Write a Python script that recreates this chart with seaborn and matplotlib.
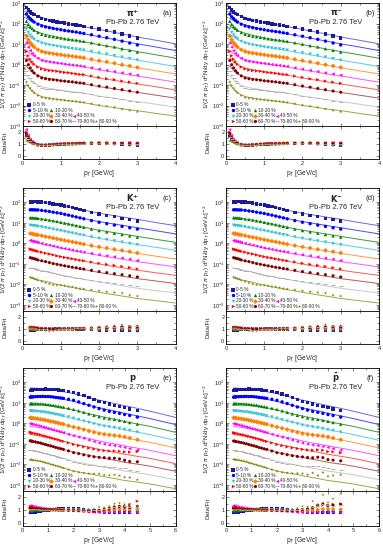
"""
Identified hadron spectra in Pb-Pb at 2.76 TeV with fits and Data/Fit ratios.
Six panels: pi+, pi-, K+, K-, p, pbar; ten centrality classes each.
"""
import numpy as np
import matplotlib
matplotlib.use("Agg")
import matplotlib.pyplot as plt
import seaborn as sns

# --- centrality classes / styles -------------------------------------------
CENTRALITIES = ["0-5 %", "5-10 %", "10-20 %", "20-30 %", "30-40 %",
                "40-50 %", "50-60 %", "60-70 %", "70-80 %", "80-90 %"]
MARKERS = ["s", "o", "^", "v", "D", "<", ">", "h", "_", "*"]
COLORS = ["#1a1a9a", "#0000ff", "#008000", "#33c4d4", "#ff8000",
          "#ff00ff", "#ff0000", "#800000", "#b0b0b0", "#808000"]
LINE_COLORS = ["#6a6ae0", "#4848ff", "#3a9a3a", "#55d0dc", "#ff9a40",
               "#ff55ff", "#ff5a5a", "#b55a5a", "#c8c8c8", "#a5a545"]

# --- pions: data bins, log10 of fit at bins + tail, Data/Fit --------------
PT_PION = [0.1, 0.15, 0.2, 0.25, 0.3, 0.4, 0.5, 0.6, 0.7, 0.8, 0.9, 1.0, 1.1,
           1.2, 1.3, 1.4, 1.5, 1.6, 1.8, 2.0, 2.2, 2.4, 2.6, 2.8, 3.0]
PT_PION_TAIL = [3.5, 4.0]
LOGFIT_PION = [
    [2.58, 2.53, 2.49, 2.45, 2.42, 2.36, 2.30, 2.24, 2.19, 2.14, 2.09, 2.05, 2.02, 1.98, 1.95, 1.92, 1.88, 1.85, 1.78, 1.71, 1.64, 1.57, 1.49, 1.42, 1.34, 1.18, 1.01],
    [2.25, 2.19, 2.15, 2.10, 2.06, 2.00, 1.93, 1.88, 1.83, 1.78, 1.74, 1.70, 1.66, 1.63, 1.60, 1.57, 1.53, 1.50, 1.43, 1.36, 1.29, 1.22, 1.15, 1.08, 1.01, 0.85, 0.68],
    [1.88, 1.81, 1.76, 1.71, 1.66, 1.59, 1.52, 1.47, 1.42, 1.38, 1.34, 1.30, 1.26, 1.23, 1.20, 1.18, 1.14, 1.11, 1.04, 0.97, 0.90, 0.84, 0.76, 0.70, 0.63, 0.47, 0.31],
    [1.47, 1.39, 1.33, 1.27, 1.22, 1.15, 1.08, 1.03, 0.98, 0.94, 0.90, 0.86, 0.83, 0.80, 0.77, 0.74, 0.71, 0.68, 0.61, 0.54, 0.48, 0.41, 0.34, 0.28, 0.21, 0.06, -0.10],
    [1.11, 1.02, 0.95, 0.89, 0.83, 0.75, 0.68, 0.63, 0.59, 0.55, 0.51, 0.48, 0.44, 0.42, 0.39, 0.36, 0.33, 0.30, 0.23, 0.16, 0.10, 0.04, -0.03, -0.09, -0.16, -0.31, -0.46],
    [0.71, 0.61, 0.53, 0.46, 0.40, 0.32, 0.24, 0.20, 0.16, 0.12, 0.08, 0.05, 0.02, -0.01, -0.04, -0.06, -0.09, -0.12, -0.19, -0.26, -0.32, -0.38, -0.45, -0.51, -0.56, -0.71, -0.86],
    [0.33, 0.22, 0.13, 0.06, -0.01, -0.10, -0.17, -0.22, -0.26, -0.29, -0.32, -0.36, -0.39, -0.41, -0.44, -0.47, -0.50, -0.52, -0.59, -0.66, -0.72, -0.77, -0.84, -0.90, -0.95, -1.09, -1.24],
    [-0.07, -0.19, -0.28, -0.37, -0.44, -0.53, -0.61, -0.65, -0.69, -0.72, -0.75, -0.79, -0.81, -0.84, -0.86, -0.89, -0.92, -0.94, -1.01, -1.08, -1.13, -1.19, -1.25, -1.31, -1.36, -1.50, -1.64],
    [-0.51, -0.64, -0.74, -0.83, -0.91, -1.01, -1.09, -1.13, -1.16, -1.19, -1.22, -1.25, -1.28, -1.30, -1.33, -1.35, -1.38, -1.40, -1.47, -1.54, -1.59, -1.64, -1.71, -1.76, -1.81, -1.94, -2.08],
    [-0.95, -1.09, -1.20, -1.30, -1.37, -1.48, -1.56, -1.60, -1.63, -1.67, -1.69, -1.72, -1.74, -1.77, -1.79, -1.81, -1.84, -1.86, -1.93, -2.00, -2.05, -2.10, -2.16, -2.21, -2.25, -2.39, -2.52],
]
RATIO_PION = [
    [1.60, 1.36, 1.20, 1.10, 1.02, 0.93, 0.90, 0.90, 0.92, 0.95, 0.97, 0.99, 1.00, 1.01, 1.02, 1.03, 1.03, 1.04, 1.04, 1.05, 1.04, 1.03, 1.00, 0.95, 0.90],
    [1.62, 1.38, 1.22, 1.11, 1.03, 0.93, 0.90, 0.90, 0.92, 0.95, 0.97, 0.99, 1.00, 1.01, 1.02, 1.03, 1.04, 1.04, 1.05, 1.05, 1.04, 1.02, 0.98, 0.93, 0.88],
    [1.70, 1.42, 1.24, 1.12, 1.04, 0.94, 0.90, 0.90, 0.92, 0.95, 0.97, 0.99, 1.00, 1.01, 1.02, 1.03, 1.04, 1.05, 1.05, 1.06, 1.05, 1.04, 1.02, 0.98, 0.95],
    [1.80, 1.48, 1.27, 1.14, 1.05, 0.94, 0.90, 0.90, 0.92, 0.95, 0.97, 0.99, 1.00, 1.01, 1.02, 1.04, 1.05, 1.05, 1.06, 1.06, 1.06, 1.05, 1.04, 1.02, 1.00],
    [1.90, 1.54, 1.30, 1.15, 1.06, 0.94, 0.90, 0.90, 0.92, 0.95, 0.97, 0.99, 1.00, 1.02, 1.03, 1.04, 1.05, 1.06, 1.06, 1.07, 1.07, 1.06, 1.05, 1.05, 1.04],
    [2.20, 1.72, 1.40, 1.20, 1.08, 0.95, 0.90, 0.90, 0.92, 0.95, 0.98, 1.00, 1.01, 1.02, 1.03, 1.04, 1.05, 1.06, 1.07, 1.08, 1.08, 1.08, 1.10, 1.12, 1.10],
    [2.00, 1.60, 1.35, 1.18, 1.07, 0.95, 0.90, 0.90, 0.92, 0.95, 0.98, 1.00, 1.01, 1.02, 1.03, 1.04, 1.05, 1.06, 1.07, 1.08, 1.07, 1.07, 1.08, 1.10, 1.08],
    [1.85, 1.52, 1.30, 1.16, 1.06, 0.94, 0.90, 0.90, 0.92, 0.95, 0.97, 0.99, 1.00, 1.02, 1.03, 1.04, 1.05, 1.06, 1.06, 1.07, 1.06, 1.05, 1.05, 1.04, 1.02],
    [1.60, 1.38, 1.22, 1.12, 1.04, 0.94, 0.90, 0.90, 0.92, 0.95, 0.97, 0.99, 1.00, 1.01, 1.02, 1.03, 1.04, 1.04, 1.05, 1.05, 1.04, 1.03, 1.02, 1.00, 0.97],
    [1.25, 1.17, 1.10, 1.04, 0.99, 0.93, 0.90, 0.90, 0.91, 0.94, 0.96, 0.98, 0.99, 1.00, 1.01, 1.02, 1.03, 1.03, 1.04, 1.04, 1.03, 1.02, 0.98, 0.94, 0.88],
]

# --- kaons -----------------------------------------------------------------
PT_KAON = [0.2, 0.25, 0.3, 0.35, 0.4, 0.5, 0.6, 0.7, 0.8, 0.9, 1.0, 1.1,
           1.2, 1.3, 1.4, 1.5, 1.6, 1.8, 2.0, 2.2, 2.4, 2.6, 2.8, 3.0]
PT_KAON_TAIL = [3.5, 4.0]
LOGFIT_KAON = [
    [2.08, 2.07, 2.07, 2.06, 2.04, 2.02, 1.99, 1.96, 1.92, 1.89, 1.86, 1.82, 1.79, 1.74, 1.70, 1.67, 1.62, 1.54, 1.47, 1.41, 1.35, 1.29, 1.23, 1.17, 1.01, 0.86],
    [1.68, 1.67, 1.66, 1.65, 1.64, 1.61, 1.58, 1.55, 1.51, 1.48, 1.45, 1.41, 1.37, 1.33, 1.29, 1.25, 1.21, 1.13, 1.06, 1.00, 0.94, 0.88, 0.82, 0.76, 0.61, 0.46],
    [1.27, 1.26, 1.25, 1.24, 1.22, 1.19, 1.16, 1.13, 1.09, 1.06, 1.02, 0.98, 0.95, 0.91, 0.87, 0.83, 0.79, 0.71, 0.64, 0.58, 0.52, 0.46, 0.40, 0.34, 0.19, 0.05],
    [0.88, 0.87, 0.86, 0.84, 0.82, 0.80, 0.76, 0.73, 0.69, 0.65, 0.62, 0.58, 0.54, 0.50, 0.46, 0.42, 0.39, 0.31, 0.24, 0.18, 0.12, 0.06, 0.00, -0.06, -0.20, -0.34],
    [0.46, 0.45, 0.43, 0.41, 0.40, 0.37, 0.33, 0.30, 0.26, 0.22, 0.18, 0.14, 0.11, 0.07, 0.03, -0.01, -0.05, -0.12, -0.19, -0.25, -0.31, -0.37, -0.43, -0.49, -0.63, -0.76],
    [0.07, 0.05, 0.04, 0.02, 0.00, -0.03, -0.07, -0.10, -0.14, -0.18, -0.23, -0.26, -0.30, -0.34, -0.38, -0.41, -0.45, -0.52, -0.59, -0.65, -0.71, -0.77, -0.83, -0.89, -1.02, -1.15],
    [-0.34, -0.36, -0.38, -0.40, -0.42, -0.45, -0.49, -0.52, -0.56, -0.61, -0.65, -0.69, -0.72, -0.76, -0.80, -0.84, -0.87, -0.94, -1.01, -1.07, -1.13, -1.19, -1.25, -1.31, -1.44, -1.56],
    [-0.74, -0.76, -0.78, -0.80, -0.83, -0.86, -0.89, -0.93, -0.98, -1.02, -1.06, -1.10, -1.14, -1.18, -1.21, -1.25, -1.28, -1.35, -1.42, -1.48, -1.54, -1.60, -1.66, -1.72, -1.84, -1.96],
    [-1.20, -1.22, -1.24, -1.27, -1.29, -1.33, -1.36, -1.40, -1.45, -1.49, -1.54, -1.58, -1.61, -1.65, -1.69, -1.72, -1.76, -1.82, -1.89, -1.95, -2.01, -2.07, -2.13, -2.19, -2.31, -2.42],
    [-1.69, -1.71, -1.74, -1.76, -1.79, -1.82, -1.86, -1.90, -1.95, -2.00, -2.04, -2.08, -2.12, -2.15, -2.19, -2.23, -2.26, -2.32, -2.39, -2.45, -2.51, -2.57, -2.63, -2.69, -2.80, -2.91],
]
RATIO_KAON = [
    [0.88, 0.90, 0.92, 0.94, 0.96, 0.98, 1.00, 1.01, 1.01, 1.02, 1.02, 1.01, 1.01, 1.00, 0.99, 0.98, 0.97, 0.95, 0.92, 0.90, 0.88, 0.86, 0.85, 0.84],
    [0.90, 0.92, 0.94, 0.95, 0.97, 0.99, 1.00, 1.01, 1.02, 1.02, 1.02, 1.01, 1.01, 1.00, 0.99, 0.98, 0.97, 0.95, 0.93, 0.91, 0.89, 0.88, 0.87, 0.86],
    [0.95, 0.96, 0.97, 0.98, 0.99, 1.00, 1.01, 1.01, 1.02, 1.02, 1.01, 1.01, 1.00, 1.00, 0.99, 0.99, 0.98, 0.97, 0.96, 0.95, 0.94, 0.93, 0.92, 0.92],
    [1.00, 1.00, 1.00, 1.01, 1.01, 1.01, 1.01, 1.00, 1.00, 1.00, 1.00, 1.00, 1.00, 1.00, 1.00, 1.00, 1.00, 1.00, 1.00, 0.99, 0.99, 0.99, 0.98, 0.97],
    [1.05, 1.04, 1.03, 1.02, 1.02, 1.01, 1.00, 0.99, 0.99, 0.99, 1.00, 1.00, 1.00, 1.01, 1.01, 1.02, 1.02, 1.03, 1.04, 1.05, 1.05, 1.06, 1.06, 1.05],
    [1.18, 1.16, 1.14, 1.12, 1.10, 1.07, 1.04, 1.02, 1.01, 1.00, 1.00, 1.01, 1.01, 1.02, 1.02, 1.03, 1.04, 1.06, 1.08, 1.10, 1.12, 1.12, 1.14, 1.12],
    [1.15, 1.14, 1.12, 1.10, 1.08, 1.05, 1.02, 1.00, 0.99, 0.99, 1.00, 1.00, 1.01, 1.02, 1.03, 1.04, 1.05, 1.07, 1.09, 1.11, 1.13, 1.15, 1.16, 1.15],
    [1.10, 1.09, 1.08, 1.06, 1.04, 1.02, 1.00, 0.98, 0.98, 0.99, 1.00, 1.01, 1.02, 1.03, 1.04, 1.05, 1.06, 1.08, 1.10, 1.12, 1.15, 1.18, 1.20, 1.20],
    [1.05, 1.06, 1.05, 1.04, 1.03, 1.00, 0.97, 0.95, 0.96, 0.98, 1.00, 1.02, 1.03, 1.04, 1.05, 1.06, 1.07, 1.09, 1.12, 1.15, 1.18, 1.20, 1.22, 1.22],
    [1.10, 1.08, 1.06, 1.02, 0.98, 0.92, 0.86, 0.82, 0.84, 0.92, 1.00, 1.03, 1.04, 1.05, 1.06, 1.07, 1.08, 1.12, 1.18, 1.24, 1.30, 1.38, 1.25, 1.30],
]

# --- protons -----------------------------------------------------------------
PT_PROTON = [0.3, 0.35, 0.4, 0.5, 0.6, 0.7, 0.8, 0.9, 1.0, 1.1, 1.2, 1.3, 1.4, 1.5, 1.6,
             1.8, 2.0, 2.2, 2.4, 2.6, 2.8, 3.0, 3.2, 3.4, 3.6, 3.8, 4.0, 4.2, 4.5]
PT_PROTON_TAIL = [5.0, 6.0]
LOGFIT_PROTON = [
    [1.72, 1.72, 1.72, 1.71, 1.71, 1.70, 1.69, 1.68, 1.66, 1.65, 1.63, 1.61, 1.58, 1.56, 1.54, 1.50, 1.45, 1.38, 1.32, 1.26, 1.19, 1.13, 1.08, 1.02, 0.97, 0.92, 0.86, 0.81, 0.73, 0.59, 0.29],
    [1.37, 1.37, 1.36, 1.36, 1.35, 1.34, 1.33, 1.31, 1.30, 1.28, 1.26, 1.23, 1.21, 1.19, 1.17, 1.12, 1.07, 1.00, 0.94, 0.88, 0.82, 0.76, 0.70, 0.65, 0.60, 0.55, 0.49, 0.44, 0.36, 0.23, -0.06],
    [0.99, 0.99, 0.98, 0.97, 0.96, 0.95, 0.94, 0.92, 0.90, 0.88, 0.86, 0.83, 0.81, 0.78, 0.76, 0.71, 0.65, 0.59, 0.53, 0.47, 0.41, 0.36, 0.30, 0.25, 0.20, 0.15, 0.09, 0.04, -0.03, -0.15, -0.44],
    [0.60, 0.60, 0.59, 0.58, 0.57, 0.55, 0.54, 0.52, 0.50, 0.47, 0.45, 0.42, 0.40, 0.37, 0.34, 0.29, 0.23, 0.17, 0.11, 0.06, 0.00, -0.06, -0.11, -0.16, -0.21, -0.26, -0.32, -0.36, -0.43, -0.55, -0.83],
    [0.23, 0.22, 0.22, 0.20, 0.19, 0.17, 0.16, 0.13, 0.11, 0.08, 0.06, 0.03, 0.00, -0.03, -0.05, -0.12, -0.18, -0.23, -0.28, -0.34, -0.39, -0.45, -0.50, -0.55, -0.60, -0.65, -0.70, -0.75, -0.82, -0.93, -1.20],
    [-0.15, -0.16, -0.17, -0.18, -0.20, -0.22, -0.24, -0.26, -0.29, -0.31, -0.34, -0.37, -0.40, -0.43, -0.46, -0.53, -0.59, -0.64, -0.69, -0.75, -0.80, -0.86, -0.91, -0.96, -1.00, -1.05, -1.10, -1.15, -1.21, -1.32, -1.58],
    [-0.54, -0.55, -0.56, -0.58, -0.59, -0.61, -0.64, -0.66, -0.69, -0.72, -0.75, -0.78, -0.81, -0.85, -0.88, -0.94, -1.01, -1.06, -1.11, -1.16, -1.21, -1.27, -1.32, -1.37, -1.41, -1.46, -1.51, -1.55, -1.61, -1.71, -1.97],
    [-0.91, -0.92, -0.93, -0.95, -0.97, -0.99, -1.02, -1.05, -1.08, -1.11, -1.14, -1.18, -1.21, -1.24, -1.27, -1.34, -1.42, -1.46, -1.51, -1.56, -1.61, -1.66, -1.71, -1.76, -1.80, -1.85, -1.90, -1.94, -1.99, -2.09, -2.34],
    [-1.32, -1.33, -1.35, -1.37, -1.39, -1.41, -1.44, -1.47, -1.50, -1.54, -1.57, -1.61, -1.64, -1.67, -1.71, -1.78, -1.86, -1.90, -1.95, -2.00, -2.04, -2.10, -2.14, -2.19, -2.23, -2.28, -2.33, -2.36, -2.42, -2.51, -2.75],
    [-1.76, -1.77, -1.79, -1.81, -1.83, -1.86, -1.89, -1.93, -1.96, -2.00, -2.03, -2.07, -2.10, -2.14, -2.18, -2.25, -2.33, -2.38, -2.42, -2.46, -2.50, -2.56, -2.60, -2.65, -2.69, -2.74, -2.79, -2.82, -2.87, -2.96, -3.19],
]
RATIO_PROTON = [
    [0.78, 0.80, 0.82, 0.85, 0.88, 0.91, 0.94, 0.97, 1.00, 1.03, 1.06, 1.08, 1.10, 1.12, 1.13, 1.15, 1.16, 1.14, 1.08, 1.00, 0.93, 0.88, 0.85, 0.83, 0.82, 0.80, 0.80, 0.79, 0.78],
    [0.80, 0.82, 0.84, 0.87, 0.90, 0.93, 0.96, 0.99, 1.02, 1.04, 1.06, 1.08, 1.10, 1.11, 1.12, 1.13, 1.13, 1.11, 1.06, 1.00, 0.95, 0.91, 0.88, 0.86, 0.86, 0.86, 0.87, 0.88, 0.88],
    [0.92, 0.93, 0.94, 0.96, 0.98, 1.00, 1.01, 1.02, 1.03, 1.04, 1.05, 1.06, 1.06, 1.07, 1.07, 1.07, 1.07, 1.05, 1.02, 0.98, 0.95, 0.93, 0.92, 0.94, 0.98, 1.00, 1.02, 1.00, 0.98],
    [1.00, 1.00, 1.01, 1.01, 1.02, 1.02, 1.03, 1.03, 1.03, 1.03, 1.04, 1.04, 1.04, 1.04, 1.04, 1.04, 1.03, 1.01, 0.99, 0.96, 0.93, 0.92, 0.93, 0.96, 1.00, 1.02, 1.04, 1.02, 1.00],
    [1.10, 1.10, 1.09, 1.08, 1.07, 1.06, 1.05, 1.05, 1.04, 1.04, 1.04, 1.03, 1.03, 1.03, 1.02, 1.01, 1.00, 0.98, 0.95, 0.92, 0.90, 0.90, 0.92, 0.96, 1.02, 1.08, 1.10, 1.08, 1.05],
    [1.35, 1.33, 1.31, 1.27, 1.23, 1.19, 1.15, 1.12, 1.09, 1.07, 1.05, 1.03, 1.02, 1.01, 1.00, 0.98, 0.96, 0.93, 0.90, 0.86, 0.82, 0.80, 0.79, 0.80, 0.82, 0.83, 0.84, 0.82, 0.80],
    [1.25, 1.24, 1.22, 1.19, 1.16, 1.13, 1.10, 1.08, 1.06, 1.05, 1.04, 1.03, 1.02, 1.01, 1.00, 0.98, 0.96, 0.94, 0.92, 0.90, 0.90, 0.92, 0.98, 1.05, 1.15, 1.25, 1.30, 1.40, 1.70],
    [1.15, 1.14, 1.13, 1.11, 1.09, 1.07, 1.05, 1.04, 1.03, 1.02, 1.01, 1.01, 1.00, 1.00, 1.00, 0.99, 0.98, 0.96, 0.94, 0.93, 0.95, 1.00, 1.08, 1.15, 1.25, 1.30, 1.25, 1.20, 1.30],
    [1.05, 1.06, 1.06, 1.06, 1.05, 1.04, 1.03, 1.02, 1.02, 1.01, 1.01, 1.00, 1.00, 1.00, 0.99, 0.98, 0.98, 0.97, 0.96, 0.96, 0.98, 1.02, 1.10, 1.18, 1.25, 1.30, 1.35, 1.25, 1.20],
    [0.95, 0.97, 0.98, 1.00, 1.01, 1.02, 1.02, 1.02, 1.02, 1.01, 1.01, 1.00, 1.00, 0.99, 0.99, 0.98, 0.98, 0.98, 0.99, 1.02, 1.10, 1.25, 1.20, 1.30, 1.50, 1.55, 1.45, 1.50, 1.30],
]
# antiprotons: same central classes, larger scatter in the peripheral ones
RATIO_ANTIPROTON = RATIO_PROTON[:6] + [
    [1.20, 1.19, 1.18, 1.15, 1.12, 1.10, 1.08, 1.06, 1.05, 1.04, 1.03, 1.02, 1.01, 1.00, 0.99, 0.97, 0.95, 0.93, 0.92, 0.92, 0.95, 1.00, 1.05, 1.15, 1.30, 1.40, 1.35, 1.45, 1.50],
    [1.12, 1.12, 1.11, 1.09, 1.08, 1.06, 1.05, 1.04, 1.03, 1.02, 1.01, 1.00, 1.00, 0.99, 0.99, 0.98, 0.97, 0.96, 0.95, 0.96, 0.98, 1.05, 1.10, 1.20, 1.40, 1.50, 1.35, 1.40, 1.45],
    [1.05, 1.05, 1.05, 1.05, 1.04, 1.04, 1.03, 1.02, 1.02, 1.01, 1.01, 1.00, 1.00, 1.00, 0.99, 0.98, 0.98, 0.97, 0.97, 0.98, 1.00, 1.05, 1.12, 1.25, 1.35, 1.45, 1.40, 1.35, 1.40],
    [1.00, 1.02, 1.03, 1.04, 1.04, 1.04, 1.03, 1.02, 1.02, 1.01, 1.00, 1.00, 0.99, 0.99, 0.98, 0.98, 0.98, 0.99, 1.00, 1.05, 1.15, 1.30, 1.25, 1.70, 1.40, 2.20, 1.60, 1.90, 2.30],
]

# tag, particle label, pt bins, tail, log fit, ratio, x max, y range
PANELS = [
    ("(a)", r"$\mathbf{\pi^{+}}$", PT_PION, PT_PION_TAIL, LOGFIT_PION, RATIO_PION, 4, (1e-3, 1e3)),
    ("(b)", r"$\mathbf{\pi^{-}}$", PT_PION, PT_PION_TAIL, LOGFIT_PION, RATIO_PION, 4, (1e-3, 1e3)),
    ("(c)", r"$\mathbf{K^{+}}$", PT_KAON, PT_KAON_TAIL, LOGFIT_KAON, RATIO_KAON, 4, (5e-4, 5e2)),
    ("(d)", r"$\mathbf{K^{-}}$", PT_KAON, PT_KAON_TAIL, LOGFIT_KAON, RATIO_KAON, 4, (5e-4, 5e2)),
    ("(e)", r"$\mathbf{p}$", PT_PROTON, PT_PROTON_TAIL, LOGFIT_PROTON, RATIO_PROTON, 6, (5e-4, 5e2)),
    ("(f)", r"$\mathbf{\bar{p}}$", PT_PROTON, PT_PROTON_TAIL, LOGFIT_PROTON, RATIO_ANTIPROTON, 6, (5e-4, 5e2)),
]

LEGEND_ROWS = [[0], [1, 2], [3, 4, 5], [6, 7, 8, 9]]

# figure layout (fractions): column lefts, row edges (main bottom, main top, ratio bottom)
COL_LEFT = [0.059, 0.590]
AX_WIDTH = 0.3995
ROW_EDGES = [(0.7709, 0.9945, 0.7109), (0.4345, 0.6582, 0.3745), (0.1073, 0.3309, 0.0436)]


def style_axis(ax, fs=4.0):
    ax.tick_params(which="both", direction="in", top=True, right=True,
                   width=0.4, labelsize=fs, pad=1.2)
    ax.tick_params(which="major", length=2.2)
    ax.tick_params(which="minor", length=1.2)
    for sp in ax.spines.values():
        sp.set_linewidth(0.6)
        sp.set_color("black")


def main():
    sns.set_theme(style="ticks")
    plt.rcParams["font.family"] = ["Liberation Sans", "DejaVu Sans"]
    plt.rcParams["mathtext.fontset"] = "dejavusans"

    fig = plt.figure(figsize=(3.83, 5.5), dpi=100)

    for k, (tag, label, pt, tail, logfit, ratio, xmax, ylim) in enumerate(PANELS):
        row, col = divmod(k, 2)
        mb, mt, rb = ROW_EDGES[row]
        ax = fig.add_axes([COL_LEFT[col], mb, AX_WIDTH, mt - mb])
        axr = fig.add_axes([COL_LEFT[col], rb, AX_WIDTH, mb - rb], sharex=ax)

        pt_fit = np.array(pt + tail)
        n = len(pt)
        for i in range(10):
            fit = 10 ** np.array(logfit[i])
            rat = np.array(ratio[i])
            assert len(fit) == len(pt_fit) and len(rat) == n, (tag, i)
            data = fit[:n] * rat
            m = MARKERS[i]
            lw = 0.7 if m == "_" else 0
            sns.lineplot(x=pt_fit, y=fit, ax=ax, color=LINE_COLORS[i],
                         linewidth=0.7, estimator=None, sort=False)
            sns.scatterplot(x=pt, y=data, ax=ax, marker=m, color=COLORS[i],
                            s=6, linewidth=lw, edgecolor=COLORS[i] if lw else "none",
                            zorder=3)
            sns.scatterplot(x=pt, y=rat, ax=axr, marker=m, color=COLORS[i],
                            s=5, linewidth=lw, edgecolor=COLORS[i] if lw else "none",
                            zorder=3)

        ax.set_yscale("log")
        ax.set_ylim(*ylim)
        ax.set_xlim(0, xmax)
        ax.xaxis.set_major_locator(plt.MultipleLocator(1))
        ax.xaxis.set_minor_locator(plt.MultipleLocator(0.5))
        ax.tick_params(labelbottom=False)
        style_axis(ax)
        ax.set_ylabel(r"1/(2 $\pi$ p$_T$) d$^2$N/dy dp$_T$ [GeV/c]$^{-2}$",
                      fontsize=4.5)
        ax.yaxis.set_label_coords(-0.09, 0.5)

        axr.set_ylim(-0.25, 2.5)
        axr.yaxis.set_major_locator(plt.MultipleLocator(1))
        axr.yaxis.set_minor_locator(plt.MultipleLocator(0.5))
        style_axis(axr)
        axr.set_ylabel("Data/Fit", fontsize=4.3)
        axr.yaxis.set_label_coords(-0.1, 0.5)
        axr.set_xlabel(r"p$_T$ [GeV/c]", fontsize=4.8, labelpad=1.5)

        # annotations
        ax.text(0.72, 0.915, label, transform=ax.transAxes, fontsize=6,
                ha="center", va="center")
        ax.text(0.945, 0.915, tag, transform=ax.transAxes, fontsize=5.5,
                ha="center", va="center")
        ax.text(0.72, 0.845, "Pb-Pb 2.76 TeV", transform=ax.transAxes,
                fontsize=5.5, ha="center", va="center")

        # hand-placed legend, triangular layout
        for r, idxs in enumerate(LEGEND_ROWS):
            y = 0.172 - r * 0.045
            for c, i in enumerate(idxs):
                x = 0.043 + c * 0.145
                m = MARKERS[i]
                lw = 0.7 if m == "_" else 0
                ax.scatter([x], [y], transform=ax.transAxes, marker=m, s=6,
                           color=COLORS[i], linewidths=lw, zorder=4)
                ax.text(x + 0.022, y, CENTRALITIES[i], transform=ax.transAxes,
                        fontsize=3.4, va="center", ha="left")

    fig.savefig("out.png", dpi=100)


if __name__ == "__main__":
    main()
